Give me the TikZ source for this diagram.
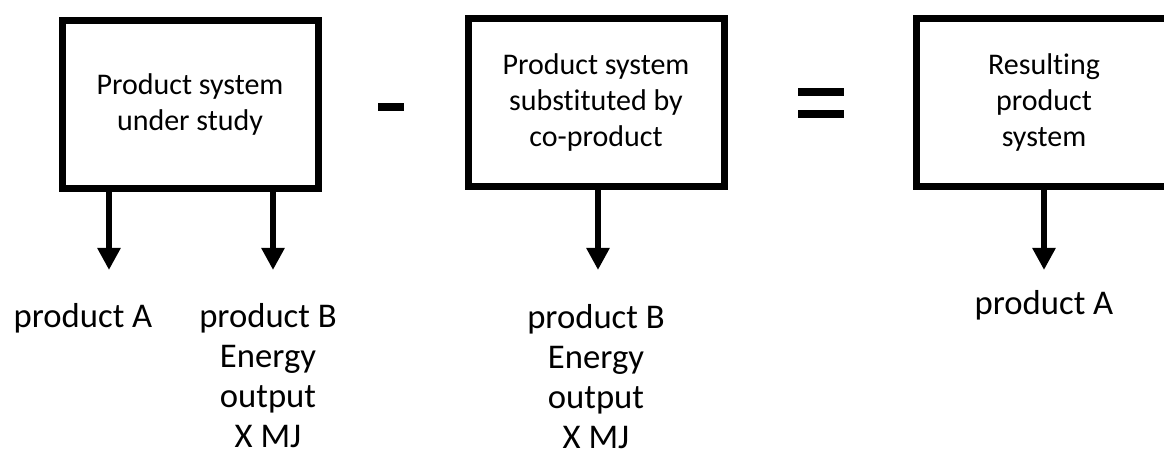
\documentclass[tikz,border=0pt]{standalone}
\usepackage{fontspec}
\setmainfont{Carlito}[Ligatures=NoCommon]
\usetikzlibrary{arrows.meta}
\begin{document}
\begin{tikzpicture}[x=0.75pt,y=-0.75pt,
  sysbox/.style={shape=rectangle,draw=black,line width=5.25pt,minimum width=192pt,minimum height=125.5pt,align=center,inner sep=0pt,font=\fontsize{22.5}{27}\selectfont},
  outlabel/.style={align=center,inner sep=0pt,font=\fontsize{26}{30}\selectfont},
  flow/.style={-{Triangle[width=16.5pt,length=16.5pt]},line width=4.8pt},
  opbar/.style={line width=6pt}]
\clip (0,0) rectangle (1164,459);
\node[sysbox] (study) at (190,104.5) {Product system\\under study};
\node[sysbox] (subst) at (596,102.5) {Product system\\substituted by\\co-product};
\node[sysbox] (result) at (1044,102.5) {Resulting\\product\\system};
\coordinate (tipA) at (109,270);
\coordinate (tipB) at (273,270);
\coordinate (tipC) at (598,270);
\coordinate (tipD) at (1044,270);
\path [flow] (study.south -| tipA) edge (tipA);
\path [flow] (study.south -| tipB) edge (tipB);
\path [flow] (subst.south -| tipC) edge (tipC);
\path [flow] (result.south -| tipD) edge (tipD);
\node[outlabel] (prodA) at (83,318) {product A};
\node[outlabel] (prodB) at (268,376) {product B\\Energy\\output\\X MJ};
\node[outlabel] (coprod) at (596,377) {product B\\Energy\\output\\X MJ};
\node[outlabel] (resA) at (1044,305) {product A};
% minus and equals signs
\draw[opbar] (378,107) -- (404,107);
\draw[opbar] (798,92.5) -- (844,92.5);
\draw[opbar] (798,114) -- (844,114);
\end{tikzpicture}
\end{document}
